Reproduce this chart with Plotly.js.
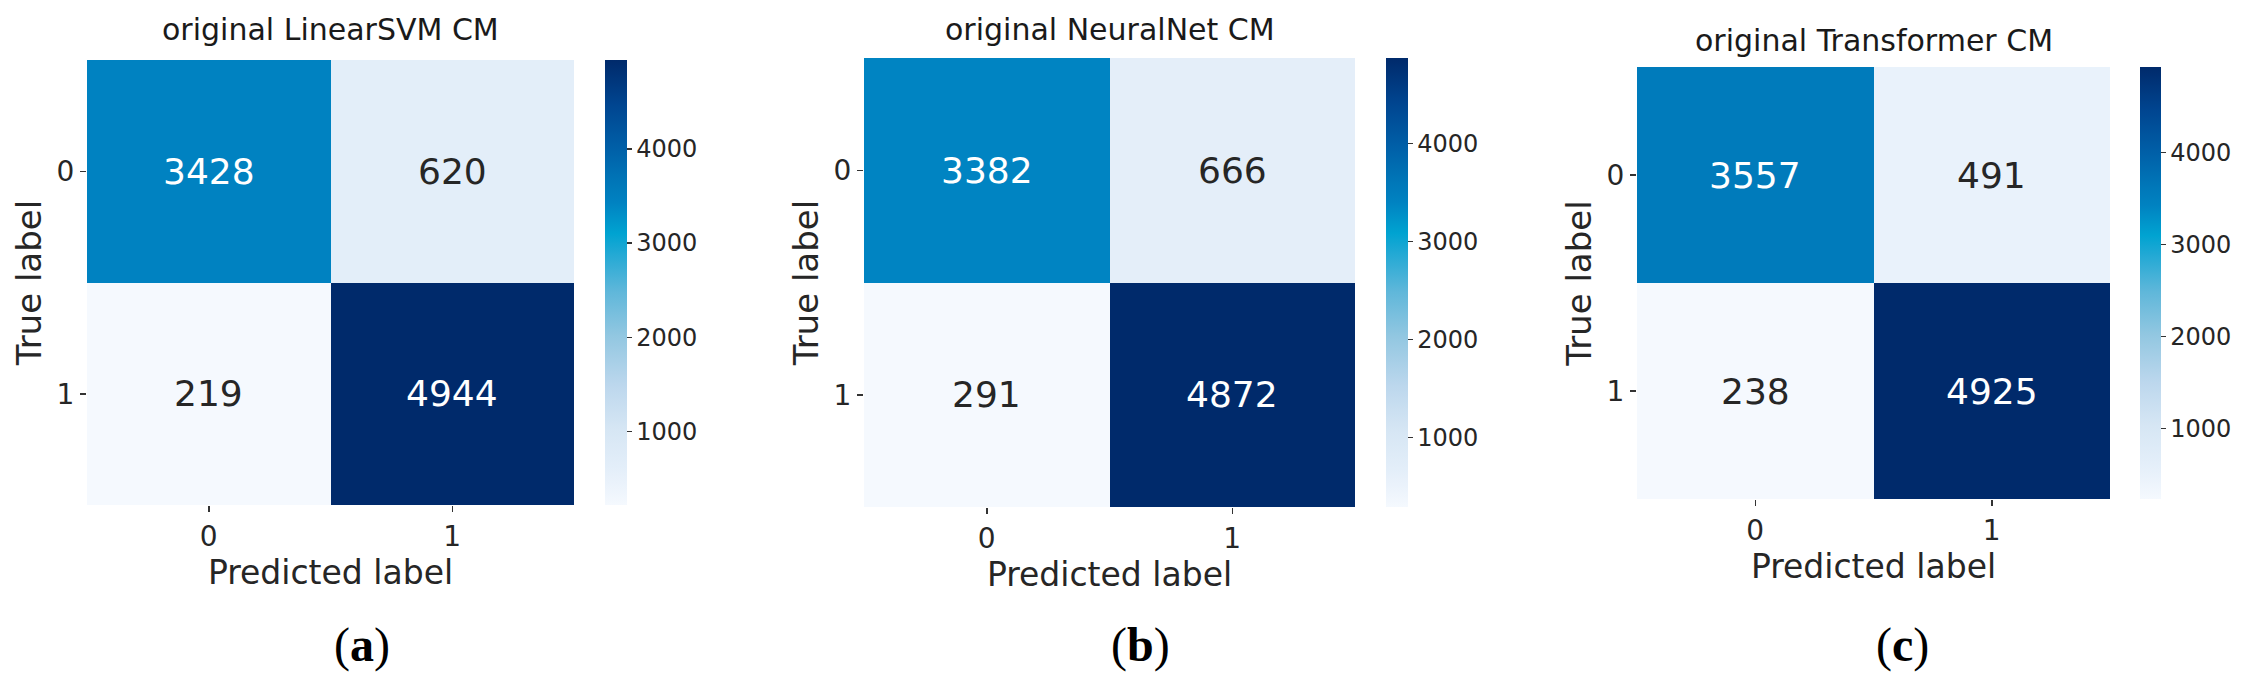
<!DOCTYPE html>
<html>
<head>
<meta charset="utf-8">
<script src="https://cdn.plot.ly/plotly-3.0.1.min.js"></script>
<style>
  body { margin: 0; background: #ffffff; }
  #myDiv { width: 2245px; height: 685px; }
</style>
</head>
<body>
<div id="myDiv"></div>
<script>
// confusion matrices, rows = true label, cols = predicted label
const predLabels = ['0', '1'];
const trueLabels = ['0', '1'];

const svmCM = [[3428, 620], [219, 4944]];
const nnCM = [[3382, 666], [291, 4872]];
const trCM = [[3557, 491], [238, 4925]];

const panelTitles = ['original LinearSVM CM', 'original NeuralNet CM', 'original Transformer CM'];
const panelLetters = ['a', 'b', 'c'];
const cbarTicks = [1000, 2000, 3000, 4000];

const matrices = [svmCM, nnCM, trCM];

// colours picked off the colorbar of the picture
const blues = [
  [0, '#f5f9fe'], [0.05, '#eaf2fb'], [0.085, '#e3eef9'], [0.17, '#d6e6f4'],
  [0.27, '#bcd7ed'], [0.38, '#92c7e1'], [0.48, '#5fb7da'], [0.57, '#1ea8d4'],
  [0.61, '#00a3d1'], [0.68, '#0082c1'], [0.72, '#0078b9'], [0.8, '#0060a8'],
  [0.9, '#004590'], [1, '#002a6b']
];

const W = 2245, H = 685;
// pixel boxes of each heatmap and colorbar [left, right, top, bottom]
const boxes = [
  {hm: [87, 574, 60, 505], cb: 605, cbw: 22, title: 30, letter: 362},
  {hm: [864, 1355, 58, 507], cb: 1386, cbw: 22, title: 30, letter: 1140},
  {hm: [1637, 2110, 67, 499], cb: 2140, cbw: 21, title: 40, letter: 1902}
];

const font = 'DejaVu Sans, sans-serif';
let traces = [];
let annotations = [];
let layout = {
  width: W,
  height: H,
  margin: {l: 0, r: 0, t: 0, b: 0},
  paper_bgcolor: '#ffffff',
  plot_bgcolor: '#ffffff',
  font: {family: font, color: '#262626'},
  showlegend: false
};

matrices.forEach(function (cm, i) {
  const b = boxes[i];
  const sfx = i === 0 ? '' : String(i + 1);
  const flat = cm[0].concat(cm[1]);
  const zmin = Math.min.apply(null, flat);
  const zmax = Math.max.apply(null, flat);
  const cy = 1 - ((b.hm[2] + b.hm[3]) / 2) / H;

  traces.push({
    type: 'heatmap',
    x: predLabels,
    y: trueLabels,
    z: cm,
    zmin: zmin,
    zmax: zmax,
    colorscale: blues,
    xaxis: 'x' + sfx,
    yaxis: 'y' + sfx,
    hoverinfo: 'z',
    colorbar: {
      x: b.cb / W,
      xanchor: 'left',
      xpad: 0,
      ypad: 0,
      y: cy,
      yanchor: 'middle',
      len: b.hm[3] - b.hm[2],
      lenmode: 'pixels',
      thickness: b.cbw,
      outlinewidth: 0,
      tickvals: cbarTicks,
      tickformat: 'd',
      ticks: 'outside',
      ticklen: 5,
      tickwidth: 1.2,
      tickcolor: '#333333',
      tickfont: {family: font, size: 24, color: '#262626'}
    }
  });

  layout['xaxis' + sfx] = {
    domain: [b.hm[0] / W, b.hm[1] / W],
    anchor: 'y' + sfx,
    type: 'category',
    showgrid: false,
    zeroline: false,
    showline: false,
    ticks: 'outside',
    ticklen: 6,
    tickwidth: 1.5,
    tickcolor: '#333333',
    tickfont: {family: font, size: 28, color: '#262626'},
    title: {text: 'Predicted label', font: {family: font, size: 33, color: '#262626'}, standoff: 4}
  };
  layout['yaxis' + sfx] = {
    domain: [1 - b.hm[3] / H, 1 - b.hm[2] / H],
    anchor: 'x' + sfx,
    type: 'category',
    autorange: 'reversed',
    showgrid: false,
    zeroline: false,
    showline: false,
    ticks: 'outside',
    ticklen: 6,
    tickwidth: 1.5,
    tickcolor: '#333333',
    tickfont: {family: font, size: 28, color: '#262626'},
    title: {text: 'True label', font: {family: font, size: 34, color: '#262626'}, standoff: 4}
  };

  // cell counts
  cm.forEach(function (row, r) {
    row.forEach(function (v, c) {
      annotations.push({
        xref: 'x' + sfx,
        yref: 'y' + sfx,
        x: predLabels[c],
        y: trueLabels[r],
        text: String(v),
        showarrow: false,
        font: {family: font, size: 36, color: v > (zmin + zmax) / 2 ? '#ffffff' : '#262626'}
      });
    });
  });

  // panel title
  annotations.push({
    xref: 'paper',
    yref: 'paper',
    x: (b.hm[0] + b.hm[1]) / 2 / W,
    y: 1 - b.title / H,
    xanchor: 'center',
    yanchor: 'middle',
    text: panelTitles[i],
    showarrow: false,
    font: {family: font, size: 30, color: '#1a1a1a'}
  });

  // (a) (b) (c)
  annotations.push({
    xref: 'paper',
    yref: 'paper',
    x: b.letter / W,
    y: 1 - 645 / H,
    xanchor: 'center',
    yanchor: 'middle',
    text: '(<b>' + panelLetters[i] + '</b>)',
    showarrow: false,
    font: {family: 'Liberation Serif, serif', size: 48, color: '#000000'}
  });
});

layout.annotations = annotations;

Plotly.newPlot('myDiv', traces, layout, {displayModeBar: false, staticPlot: true});
</script>
</body>
</html>
